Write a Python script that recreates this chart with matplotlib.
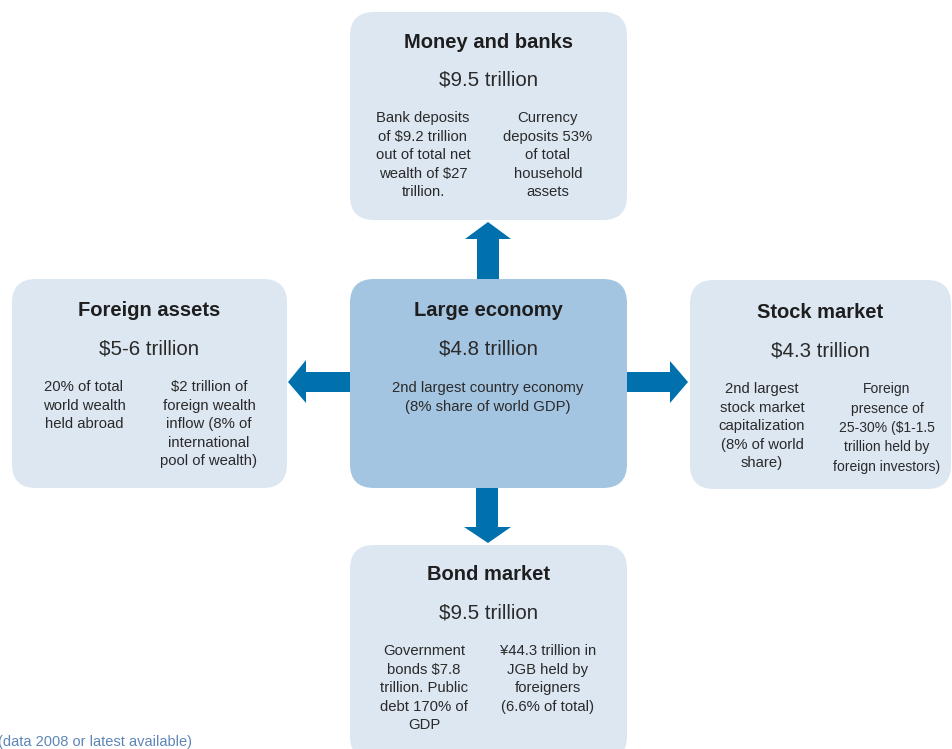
import matplotlib
matplotlib.use("Agg")
import matplotlib.pyplot as plt
from matplotlib.patches import FancyBboxPatch, Polygon

plt.rcParams['font.family'] = ['Liberation Sans', 'DejaVu Sans']

# box contents
titles = ["Money and banks", "Foreign assets", "Large economy", "Stock market", "Bond market"]
values = ["$9.5 trillion", "$5-6 trillion", "$4.8 trillion", "$4.3 trillion", "$9.5 trillion"]
left_notes = [
    "Bank deposits\nof $9.2 trillion\nout of total net\nwealth of $27\ntrillion.",
    "20% of total\nworld wealth\nheld abroad",
    "2nd largest country economy\n(8% share of world GDP)",
    "2nd largest\nstock market\ncapitalization\n(8% of world\nshare)",
    "Government\nbonds $7.8\ntrillion. Public\ndebt 170% of\nGDP",
]
right_notes = [
    "Currency\ndeposits 53%\nof total\nhousehold\nassets",
    "$2 trillion of\nforeign wealth\ninflow (8% of\ninternational\npool of wealth)",
    "",
    "Foreign\npresence of\n25-30% ($1-1.5\ntrillion held by\nforeign investors)",
    "\u00a544.3 trillion in\nJGB held by\nforeigners\n(6.6% of total)",
]
footnote = "(data 2008 or latest available)"

# layout in pixels: (x0, y0, x1, y1)
boxes = [
    (350, 12, 627, 220),
    (12, 279, 287, 488),
    (350, 279, 627, 488),
    (690, 280, 951, 489),
    (350, 545, 627, 760),
]
title_y = [41, 310, 310, 312, 574]
col_x = [(423, 548), (84, 209), (488, 488), (762, 887), (424, 548)]
light = "#dde7f2"
dark_box = "#a4c5e1"
arrow_col = "#0071ad"
txt = "#2a2a2a"

fig = plt.figure(figsize=(9.53, 7.49), dpi=100)
ax = fig.add_axes([0, 0, 1, 1])
ax.set_xlim(0, 953)
ax.set_ylim(749, 0)
ax.axis("off")

for i, (x0, y0, x1, y1) in enumerate(boxes):
    col = dark_box if i == 2 else light
    ax.add_patch(FancyBboxPatch((x0, y0), x1 - x0, y1 - y0,
                                boxstyle="round,pad=0,rounding_size=24",
                                fc=col, ec="none", zorder=1))
    cx = (x0 + x1) / 2
    ty = title_y[i]
    ax.text(cx, ty + 1, titles[i], ha="center", va="center", fontsize=14.5,
            fontweight="bold", color="#1e1e1e", zorder=3)
    ax.text(cx, ty + 39, values[i], ha="center", va="center", fontsize=14.8,
            color=txt, zorder=3)
    lx, rx = col_x[i]
    if right_notes[i]:
        fs = 10.0 if i == 3 else 10.7
        ax.text(lx, ty + 70, left_notes[i], ha="center", va="top",
                fontsize=10.7, color=txt, linespacing=1.42, zorder=3)
        ax.text(rx, ty + 70, right_notes[i], ha="center", va="top",
                fontsize=fs, color=txt, linespacing=1.5 if i == 3 else 1.42,
                zorder=3)
    else:
        ax.text(lx, ty + 71, left_notes[i], ha="center", va="top",
                fontsize=10.7, color=txt, linespacing=1.42, zorder=3)


def arrow(pts):
    ax.add_patch(Polygon(pts, closed=True, fc=arrow_col, ec="none", zorder=2))


# up
arrow([(477, 279), (477, 239), (465, 239), (488, 222), (511, 239),
       (499, 239), (499, 279)])
# down
arrow([(476, 488), (476, 527), (464, 527), (488, 543), (511, 527),
       (498, 527), (498, 488)])
# left
arrow([(350, 372), (306, 372), (306, 360), (288, 382), (306, 403),
       (306, 392), (350, 392)])
# right
arrow([(627, 372), (670, 372), (670, 361), (688, 382), (670, 403),
       (670, 392), (627, 392)])

ax.text(-2, 742, footnote, ha="left", va="center", fontsize=10.5,
        color="#5d86b8")

fig.savefig("out.png", dpi=100)
